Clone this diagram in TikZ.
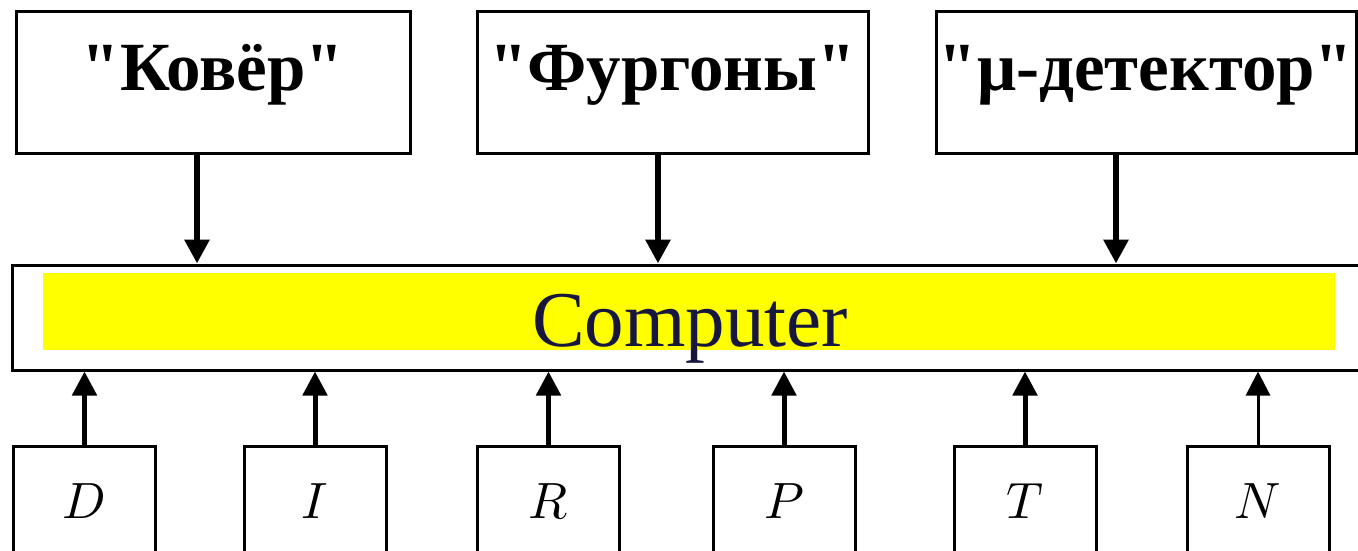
\documentclass[tikz,border=0pt]{standalone}
\usepackage{graphicx}
\usepackage{fontspec}
\setmainfont{Liberation Serif}
% no TeX ligatures here, so " stays a straight double quote
\newfontfamily\labelfont{Liberation Serif}
\usetikzlibrary{arrows.meta}
\definecolor{hilite}{RGB}{255,255,0}
\definecolor{comptext}{RGB}{22,22,62}
\newcommand{\param}[1]{\scalebox{5.1}{$#1$}}
\tikzset{
  box/.style={draw, line width=3pt, inner sep=0pt, fill=white},
  sourcebox/.style={box, minimum width=394pt, text height=79pt, text depth=62pt,
    font=\labelfont\fontsize{69}{72}\selectfont\bfseries},
  inbox/.style={box, minimum width=142pt, text height=72pt, text depth=47pt},
  flow/.style={line width=5pt, -{Triangle[width=24pt,length=24pt]}}
}
\begin{document}
\begin{tikzpicture}[x=1pt,y=-1pt]
\useasboundingbox (0,0) rectangle (1358,551);

% data sources
\node[sourcebox] (kover) at (213,82.5) {"Ковёр"};
\node[sourcebox, minimum width=391pt] (furg) at (672.5,82.5) {"Фургоны"};
\node[sourcebox, minimum width=420pt] (mudet) at (1146,82.5) {"μ-детектор"};

% computer bar
\node[box, minimum width=1352pt, minimum height=105pt] (comp) at (688,317.5) {};
\fill[hilite] (43,273) rectangle (1335,350);
\node[inner sep=0pt, text height=81pt, text depth=24pt,
  font=\fontsize{79}{90}\selectfont, text=comptext] (comptxt) at (690,317.5) {Computer};

% input parameters
\node[inbox] (d) at (84.5,505.5) {\param{D}};
\node[inbox] (i) at (315,505.5) {\param{I}};
\node[inbox] (r) at (548.5,505.5) {\param{R}};
\node[inbox] (p) at (784,505.5) {\param{P}};
\node[inbox] (t) at (1025,505.5) {\param{T}};
\node[inbox] (n) at (1258,505.5) {\param{N}};

% connectors into the computer
\coordinate (a1) at (197,0);
\coordinate (a2) at (658,0);
\coordinate (a3) at (1116,0);
\draw[flow, line width=6pt] (kover.south -| a1) -- (comp.north -| a1);
\draw[flow, line width=6pt] (furg.south -| a2) -- (comp.north -| a2);
\draw[flow, line width=6pt] (mudet.south -| a3) -- (comp.north -| a3);

\foreach \s in {d,i,r,p,t}
  \draw[flow] (\s.north) -- (comp.south -| \s.north);
\draw[flow, line width=3pt] (n.north) -- (comp.south -| n.north);
\end{tikzpicture}
\end{document}
